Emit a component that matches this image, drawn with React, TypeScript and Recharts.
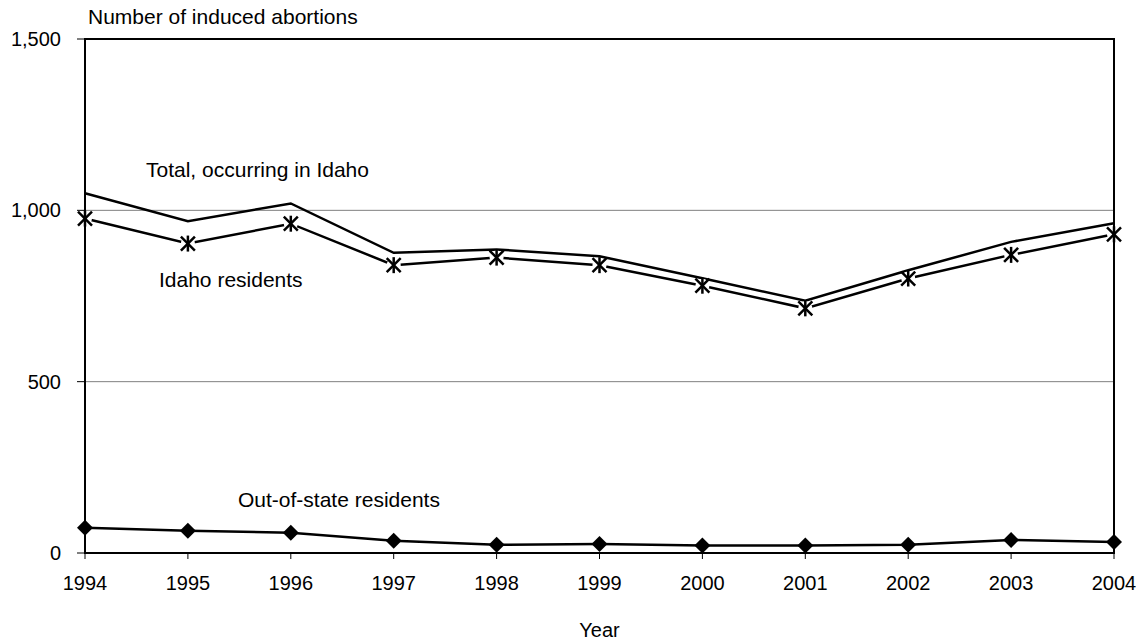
import React from "react";
import {
  CartesianGrid,
  Line,
  LineChart,
  ReferenceArea,
  XAxis,
  YAxis,
} from "recharts";

const years = [1994, 1995, 1996, 1997, 1998, 1999, 2000, 2001, 2002, 2003, 2004];
const totalInIdaho = [1050, 968, 1020, 876, 886, 866, 802, 736, 825, 908, 962];
const idahoResidents = [976, 903, 961, 840, 862, 840, 780, 714, 801, 870, 930];
const outOfState = [74, 65, 59, 36, 24, 26, 22, 22, 24, 38, 32];
const yTicks = [0, 500, 1000, 1500];

const data = years.map((year, i) => ({
  year,
  total: totalInIdaho[i],
  residents: idahoResidents[i],
  outside: outOfState[i],
}));

const font = '"Liberation Sans", Arial, sans-serif';

const StarDot = (props: any) => {
  const { cx, cy } = props;
  if (cx == null || cy == null) return null;
  const r = 7;
  return (
    <g>
      <circle cx={cx} cy={cy} r={7} fill="#fff" />
      <line x1={cx - r} y1={cy - r} x2={cx + r} y2={cy + r} stroke="#000" strokeWidth={2.5} />
      <line x1={cx - r} y1={cy + r} x2={cx + r} y2={cy - r} stroke="#000" strokeWidth={2.5} />
      <line x1={cx} y1={cy - r - 1} x2={cx} y2={cy + r + 1} stroke="#000" strokeWidth={2.5} />
    </g>
  );
};

const DiamondDot = (props: any) => {
  const { cx, cy } = props;
  if (cx == null || cy == null) return null;
  const r = 8;
  return (
    <path
      d={`M${cx},${cy - r} L${cx + r},${cy} L${cx},${cy + r} L${cx - r},${cy} Z`}
      fill="#000"
    />
  );
};

const labelStyle = { fontFamily: font, fontSize: 21, fill: "#000" };

export default function App() {
  return (
    <div style={{ width: 1128, height: 643, marginTop: -8, fontFamily: font }}>
      <LineChart
        width={1128}
        height={643}
        data={data}
        margin={{ top: 39, right: 22, left: 0, bottom: 4 }}
      >
        <CartesianGrid vertical={false} stroke="#808080" strokeWidth={1} />
        <XAxis
          dataKey="year"
          type="number"
          domain={[1994, 2004]}
          ticks={years}
          height={86}
          axisLine={{ stroke: "#000", strokeWidth: 2 }}
          tickLine={{ stroke: "#000", strokeWidth: 1 }}
          tickSize={6}
          tickMargin={17}
          tick={{ fill: "#000", fontSize: 20, fontFamily: font }}
          label={{
            value: "Year",
            position: "insideBottom",
            offset: 2,
            style: { fill: "#000", fontSize: 20, fontFamily: font },
          }}
        />
        <YAxis
          domain={[0, 1500]}
          ticks={yTicks}
          width={77}
          axisLine={{ stroke: "#000", strokeWidth: 2 }}
          tickLine={{ stroke: "#000", strokeWidth: 1 }}
          tickSize={8}
          tickMargin={16}
          tickFormatter={(v: number) => v.toLocaleString("en-US")}
          tick={{ fill: "#000", fontSize: 20, fontFamily: font }}
        />
        <ReferenceArea
          x1={1994}
          x2={2004}
          y1={0}
          y2={1500}
          fill="none"
          fillOpacity={0}
          stroke="#000"
          strokeWidth={2}
          strokeOpacity={1}
        />
        <Line
          type="linear"
          dataKey="total"
          stroke="#000"
          strokeWidth={2.5}
          dot={false}
          activeDot={false}
          isAnimationActive={false}
        />
        <Line
          type="linear"
          dataKey="residents"
          stroke="#000"
          strokeWidth={2.5}
          dot={<StarDot />}
          activeDot={false}
          isAnimationActive={false}
        />
        <Line
          type="linear"
          dataKey="outside"
          stroke="#000"
          strokeWidth={2.5}
          dot={<DiamondDot />}
          activeDot={false}
          isAnimationActive={false}
        />
        <text x={80} y={24} style={labelStyle}>
          Number of induced abortions
        </text>
        <text x={138} y={177} style={labelStyle}>
          Total, occurring in Idaho
        </text>
        <text x={151} y={287} style={labelStyle}>
          Idaho residents
        </text>
        <text x={230} y={507} style={labelStyle}>
          Out-of-state residents
        </text>
      </LineChart>
    </div>
  );
}
